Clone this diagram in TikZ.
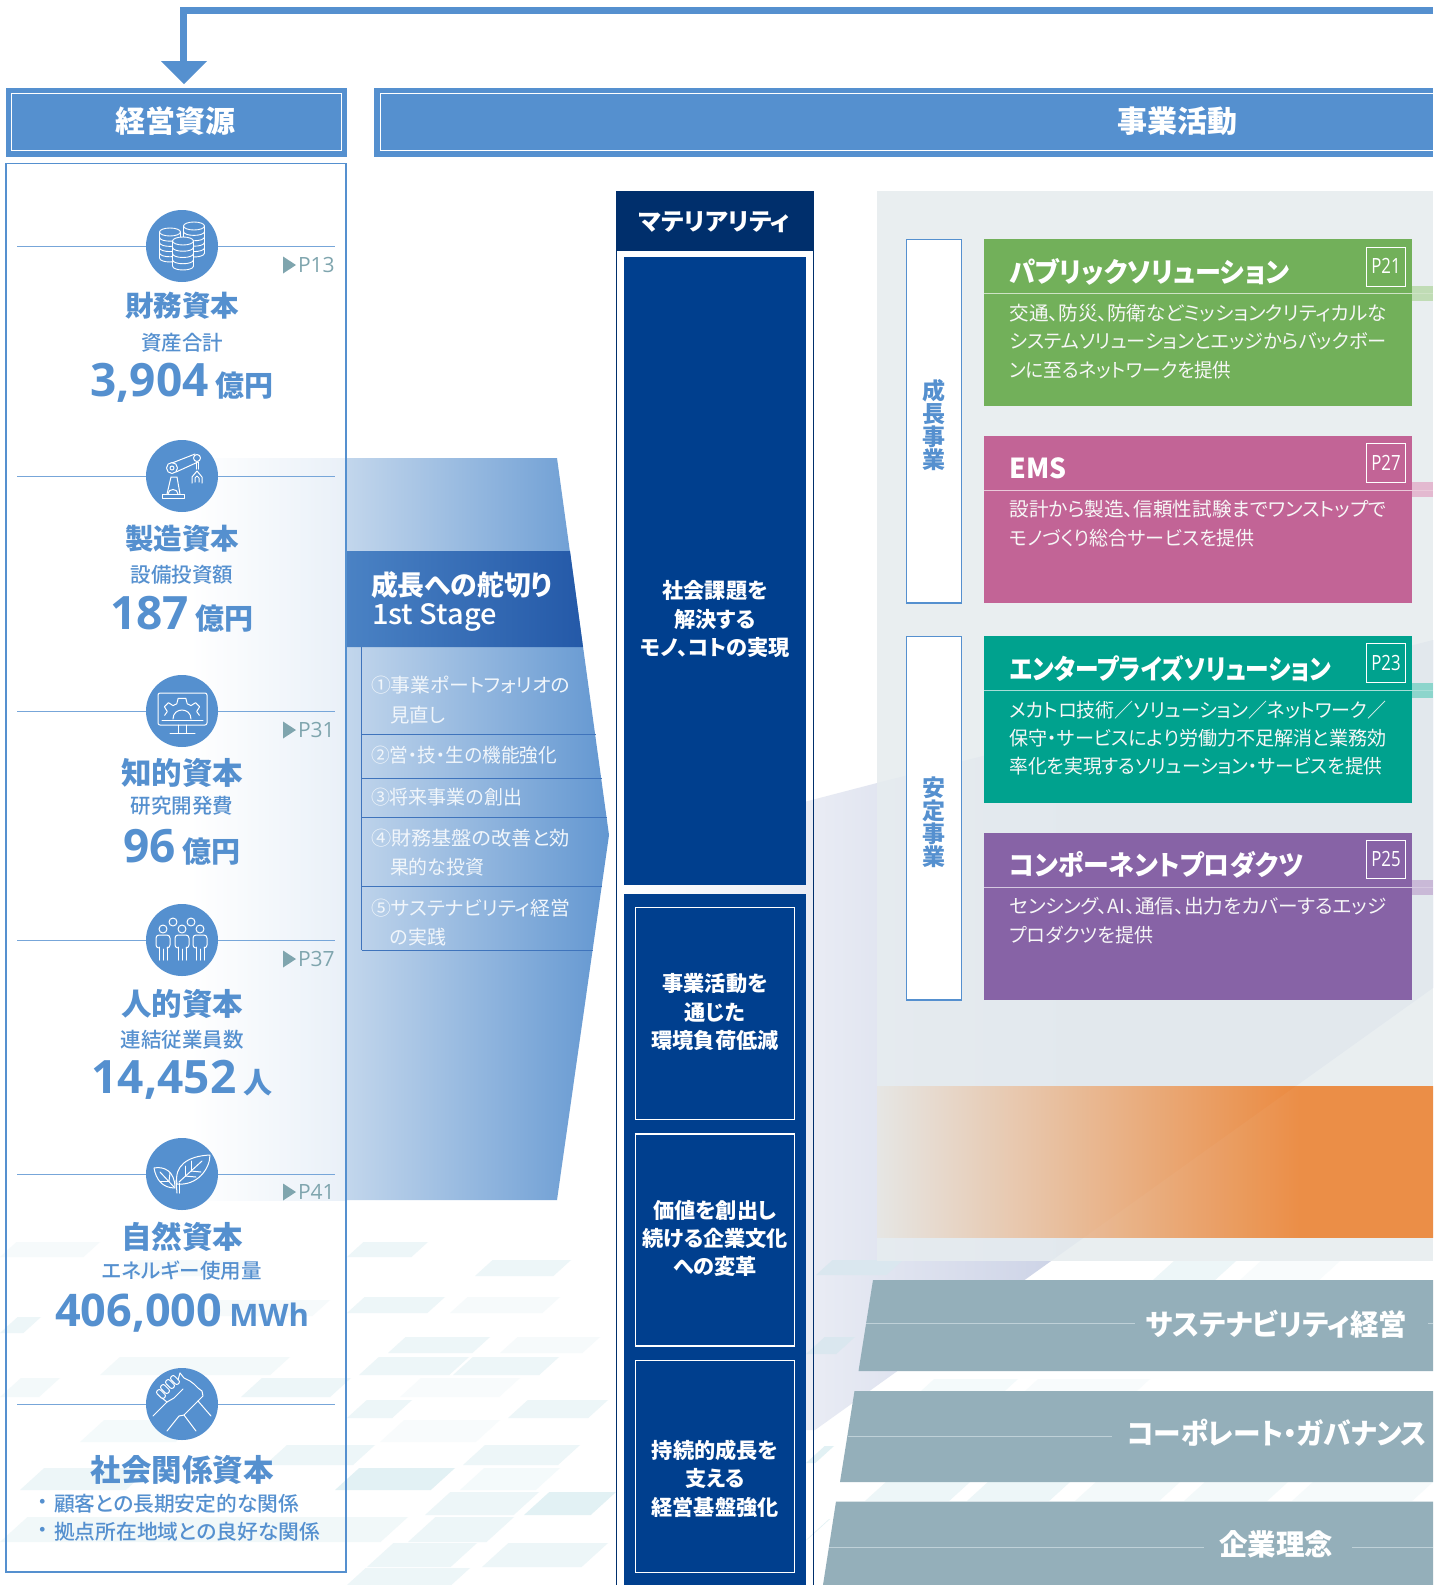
\documentclass[tikz,border=0pt]{standalone}
\usepackage{fontspec}
\setmainfont{Noto Sans CJK JP}[RawFeature={+palt}]
\newfontfamily\jp{Noto Sans CJK JP}[RawFeature={+palt}]
\newfontfamily\jpm{Noto Sans CJK JP Medium}[RawFeature={+palt}]
\newfontfamily\numf{Open Sans}
\usetikzlibrary{calc}
\definecolor{mainblue}{HTML}{5590CF}
\definecolor{navy}{HTML}{002F6C}
\definecolor{deepblue}{HTML}{003F8E}
\definecolor{tilec}{HTML}{EDF6F8}
\definecolor{tiled}{HTML}{E2F1F4}
\definecolor{barc}{HTML}{94AFBA}
\definecolor{barl}{HTML}{BFD1D8}
\definecolor{prefc}{HTML}{7FA5AE}
\definecolor{cgreen}{HTML}{72B05A}
\definecolor{cpink}{HTML}{C26496}
\definecolor{cteal}{HTML}{00A28E}
\definecolor{cpurple}{HTML}{8763A6}
\definecolor{lav}{HTML}{C8CFE4}
\definecolor{panelg}{HTML}{E6ECEF}
\definecolor{bandl}{HTML}{E6E6E4}
\definecolor{bandr}{HTML}{EB8A40}
\definecolor{washc}{HTML}{E9F0F8}
\definecolor{arrl}{HTML}{C2D6EC}
\definecolor{arrr}{HTML}{6397D1}
\definecolor{headl}{HTML}{4A82C4}
\definecolor{headr}{HTML}{2459A8}
\definecolor{stglc}{HTML}{3F74BC}
\pgfdeclarehorizontalshading{bandsh}{100bp}{color(0bp)=(bandl); color(25bp)=(bandl); color(63bp)=(bandr); color(100bp)=(bandr)}
\newcommand{\fsz}[1]{\fontsize{#1}{#1}\selectfont}
\newcommand{\wfit}[2]{\resizebox{#1pt}{\height}{#2}}
\newcommand{\tile}[5]{\fill[#5] ({#1+(#4-#3)*1.1},#3) -- (#2,#3) -- ({#2-(#4-#3)*1.1},#4) -- (#1,#4) -- cycle;}
\tikzset{
  txt/.style={inner sep=0pt,outer sep=0pt},
  hd/.style={txt,text=white,font=\bfseries\fsz{30}},
  capname/.style={txt,text=mainblue,font=\bfseries\fsz{28.5}},
  capnameb/.style={capname,font=\bfseries\fsz{30.5}},
  capsub/.style={txt,text=mainblue,font=\jpm\fsz{20.5}},
  capval/.style={txt,text=mainblue,anchor=base},
  itemline/.style={draw=mainblue!80,line width=1pt},
  iconc/.style={fill=mainblue,circle,minimum size=72pt,inner sep=0pt},
  ico/.style={white,line width=1pt,line join=round,line cap=round},
  pref/.style={txt,anchor=west,text=prefc,font=\numf\fsz{21}},
  mat/.style={txt,text=white,font=\bfseries\fsz{21.2},align=center},
  matbox/.style={draw=white,line width=1.1pt},
  stg/.style={txt,anchor=west,text=white!92!mainblue,font=\fsz{19.4}},
  stgl/.style={draw=stglc,line width=1pt},
  ctitle/.style={txt,anchor=west,text=white,font=\bfseries\fsz{27.5}},
  cbody/.style={txt,anchor=west,text=white!94!gray,font=\fsz{19.4}},
  pbox/.style={draw=white,line width=.9pt},
  ptxt/.style={txt,text=white,font=\numf\fsz{21}},
  side/.style={draw=mainblue,line width=1.1pt,fill=white},
  sidetxt/.style={txt,text=mainblue,font=\bfseries\fsz{23},align=center},
  bartxt/.style={txt,text=white,font=\bfseries\fsz{29}},
  barline/.style={draw=barl,line width=.9pt},
}
\newcommand{\prefmark}[3]{\fill[prefc] (283,#2-8.5) -- (296,#2) -- (283,#2+8.5) -- cycle; \node[pref] (#1) at (298,#2) {#3};}
\newcommand{\coinstack}[4]{% dx, ytop, ybot, n
  \fill[mainblue] (#1-10.5,#2) rectangle (#1+10.5,#3);
  \fill[mainblue] (#1,#2) ellipse (10.5 and 4);
  \fill[mainblue] (#1,#3) ellipse (10.5 and 4);
  \draw (#1,#2) ellipse (10.5 and 4);
  \draw (#1-10.5,#2) -- (#1-10.5,#3) .. controls (#1-10.5,#3+5.3) and (#1+10.5,#3+5.3) .. (#1+10.5,#3) -- (#1+10.5,#2);
  \foreach \k in {1,...,#4}{\pgfmathsetmacro{\yk}{#2+(#3-#2)*\k/(#4+1)}\draw (#1-10.5,\yk) .. controls (#1-10.5,\yk+5.3) and (#1+10.5,\yk+5.3) .. (#1+10.5,\yk);}
}
\begin{document}
\begin{tikzpicture}[x=1pt,y=-1pt]
\useasboundingbox (0,0) rectangle (1433,1585);
\fill[white] (0,0) rectangle (1433,1585);
% --- background tiles
\tile{0}{100}{1242}{1257}{tilec!50}
\tile{347}{428}{1242}{1257}{tilec}
\tile{475}{571}{1260}{1276}{tilec}
\tile{120}{250}{1260}{1276}{tilec!50}
\tile{347}{445}{1297}{1313}{tilec}
\tile{450}{560}{1297}{1313}{tilec!50}
\tile{0}{41}{1317}{1333}{tilec}
\tile{200}{330}{1300}{1316}{tilec!50}
\tile{388}{490}{1337}{1353}{tilec}
\tile{500}{600}{1337}{1353}{tilec!50}
\tile{100}{290}{1357}{1375}{tilec!70}
\tile{359}{469}{1357}{1375}{tilec}
\tile{453}{559}{1357}{1375}{tilec}
\tile{0}{60}{1378}{1397}{tilec!70}
\tile{241}{351}{1378}{1397}{tilec}
\tile{400}{520}{1378}{1397}{tilec!40}
\tile{347}{412}{1400}{1418}{tilec}
\tile{508}{608}{1400}{1418}{tilec}
\tile{80}{200}{1420}{1442}{tilec!60}
\tile{380}{500}{1420}{1442}{tilec!40}
\tile{265}{375}{1445}{1465}{tilec}
\tile{463}{580}{1445}{1465}{tilec}
\tile{20}{150}{1468}{1490}{tilec}
\tile{335}{455}{1468}{1490}{tiled}
\tile{460}{560}{1468}{1490}{tilec!60}
\tile{425}{539}{1492}{1515}{tilec}
\tile{524}{616}{1492}{1515}{tiled}
\tile{0}{408}{1517}{1542}{tilec!80}
\tile{408}{514}{1517}{1542}{tilec}
\tile{367}{477}{1543}{1567}{tilec}
\tile{482}{608}{1543}{1567}{tilec}
\tile{347}{470}{1568}{1585}{tilec}
\tile{1153}{1236}{1261}{1280}{tilec}
\tile{1240}{1340}{1261}{1280}{tilec!40}
\tile{921}{1018}{1379}{1391}{tilec!60}
\tile{1025}{1150}{1379}{1391}{tilec!40}
\tile{865}{970}{1482}{1501}{tilec}
\tile{967}{1070}{1482}{1501}{tilec}
\tile{1075}{1180}{1482}{1501}{tilec!70}
\tile{1184}{1288}{1482}{1501}{tilec!70}
\tile{1292}{1433}{1482}{1501}{tilec!50}
\tile{806}{834}{1446}{1463}{tiled}
\tile{806}{830}{1519}{1540}{tiled}
% --- lavender wedge
\shade[left color=white,right color=lav] (620,850) -- (877,783) -- (1100,726) -- (1100,1226) -- (815,1430) -- (620,1430) -- cycle;
\fill[lav] (1099,726) -- (1433,640) -- (1433,988) -- (1099,1227) -- cycle;
\tile{816}{903}{1260}{1275}{tiled!70!lav}
\tile{806}{855}{1337}{1354}{tiled!70!lav}
% --- grey panel
\fill[fill=panelg,fill opacity=.88] (877,191) rectangle (1433,1261);
% --- orange band
\shade[shading=bandsh] (877,1086.5) rectangle (1433,1237);
\begin{scope}
\clip (877,1086.5) rectangle (1433,1237);
\fill[white,fill opacity=.04] (1433,988) -- (815,1430) -- (1433,1430) -- cycle;
\end{scope}
% --- left panel wash and arrow
\shade[left color=white,right color=washc] (190,458) rectangle (347,1200);
\shade[left color=arrl,right color=arrr] (347,458) -- (557,458) -- (609,835) -- (557,1200) -- (347,1200) -- cycle;
\shade[left color=headl,right color=headr] (347,551) -- (570,551) -- (583,647) -- (347,647) -- cycle;
\draw[stgl] (361.5,647) -- (361.5,950);
\draw[stgl] (361.5,734) -- (596,734);
\draw[stgl] (361.5,778) -- (602,778);
\draw[stgl] (361.5,817) -- (607,817);
\draw[stgl] (361.5,886) -- (602,886);
\draw[stgl] (361.5,950) -- (593,950);
\node[txt,anchor=west,text=white,font=\bfseries\fsz{27.5}] (stagea) at (371,585) {\wfit{181}{成長への舵切り}};
\node[txt,anchor=west,text=white,font=\jpm\fsz{28}] (stageb) at (372,617) {\wfit{125}{1st Stage}};
\node[stg] (s1a) at (371,685) {\wfit{199}{①事業ポートフォリオの}};
\node[stg] (s1b) at (390,715) {見直し};
\node[stg] (s2) at (371,755) {\wfit{186}{②営・技・生の機能強化}};
\node[stg] (s3) at (371,797) {\wfit{151}{③将来事業の創出}};
\node[stg] (s4a) at (371,838) {\wfit{199}{④財務基盤の改善と効}};
\node[stg] (s4b) at (390,867) {\wfit{94}{果的な投資}};
\node[stg] (s5a) at (371,908) {\wfit{199}{⑤サステナビリティ経営}};
\node[stg] (s5b) at (390,937) {\wfit{56}{の実践}};
% --- top arrow
\coordinate (topr) at (1433,10.5);
\coordinate (topd) at (183.5,62);
\draw[mainblue,line width=7pt] (topr) -| (topd);
\fill[mainblue] (161,61) -- (207,61) -- (184,84) -- cycle;
% --- headers
\fill[mainblue] (6,88) rectangle (347,157);
\draw[white,line width=.9pt] (11.5,93.5) rectangle (341,150.5);
\node[hd] (hleft) at (175.5,121) {経営資源};
\fill[mainblue] (374,88) rectangle (1433,157);
\draw[white,line width=.9pt] (1433,93.5) -- (380,93.5) -- (380,150.5) -- (1433,150.5);
\node[hd] (hright) at (1177,121) {事業活動};
% --- resource panel
\draw[mainblue,line width=1.1pt] (6,163.5) rectangle (346,1572);
% items
\foreach \yy in {246,476,711,940,1174,1404}{\draw[itemline] (17,\yy) -- (335,\yy);}
\node[iconc] (i1) at (182,246) {};
\node[iconc] (i2) at (182,476) {};
\node[iconc] (i3) at (182,711) {};
\node[iconc] (i4) at (182,940) {};
\node[iconc] (i5) at (182,1174) {};
\node[iconc] (i6) at (182,1404) {};
% coins
\begin{scope}[ico,line width=.9pt,shift={(i1.center)}]
\coinstack{-12}{-14}{12}{4}
\coinstack{12}{-20}{7}{4}
\coinstack{1}{-5}{20}{3}
\end{scope}
% robot
\begin{scope}[ico,shift={(i2.center)}]
\draw (-20,18) rectangle (2,22);
\draw (-15,18) -- (-11,1) -- (-5,1) -- (-2,18);
\draw (-14,18) .. controls (-14,12) and (-4,12) .. (-4,18);
\draw (-10,-8) circle (5.5);
\draw (-10,-8) circle (2);
\draw (-10,-13) -- (13,-22);
\draw (-6,-4) -- (16,-14);
\draw (15,-18) circle (3.5);
\draw (14,-14) -- (14,-7);
\draw (16,-14) -- (16,-7);
\draw (10,7) -- (10,1) -- (15,-5) -- (20,1) -- (20,7);
\draw (13,6) -- (13,2) -- (15,0) -- (17,2) -- (17,6);
\end{scope}
% monitor
\begin{scope}[ico,shift={(i3.center)}]
\draw[rounded corners=2pt] (-24,-18) rectangle (25,14);
\draw (-20,9) -- (21,9);
\draw (-4,14) -- (-4,22);
\draw (4,14) -- (4,22);
\draw (-12,22) -- (13,22);
\draw[shift={(0,9)}] (-165:18) -- (-150:17) -- (-143:22) -- (-128:22) -- (-122:17) -- (-108:17) -- (-100:22) -- (-80:22) -- (-72:17) -- (-58:17) -- (-52:22) -- (-37:22) -- (-30:17) -- (-15:18);
\draw[shift={(0,9)}] (-9,-1) .. controls (-9,-13) and (9,-13) .. (9,-1);
\end{scope}
% people
\begin{scope}[ico,shift={(i4.center)}]
\draw (-9,-18) circle (4);
\draw (9,-18) circle (4);
\foreach \px in {-19,0,18}{
\begin{scope}[shift={(\px,0)}]
\draw (0,-11) circle (4);
\draw (-4,20) -- (-4,7);
\draw (4,20) -- (4,7);
\draw (0,20) -- (0,9);
\draw[rounded corners=3pt] (-4,8) -- (-7,8) -- (-7,-5) -- (7,-5) -- (7,8) -- (4,8);
\end{scope}}
\end{scope}
% leaves
\begin{scope}[ico,shift={(i5.center)}]
\draw (-5,10) .. controls (-8,-8) and (5,-18) .. (28,-19) .. controls (28,-5) and (15,12) .. (-5,10);
\draw (-3,8) -- (20,-13);
\draw (3,2) -- (3,-8);
\draw (9,-3) -- (9,-13);
\draw (3,2) -- (14,3);
\draw (9,-3) -- (19,-2);
\draw (-7,14) .. controls (-20,14) and (-26,5) .. (-28,-6) .. controls (-18,-8) and (-7,-3) .. (-7,14);
\draw (-8,13) -- (-22,-2);
\draw (-13,7) -- (-22,7);
\draw (-13,7) -- (-12,-1);
\draw (-5,19) -- (-6,6);
\draw (-3,19) -- (-3,9);
\end{scope}
% handshake
\begin{scope}[ico,shift={(i6.center)}]
\draw (-29,12) -- (-15,-2);
\draw (-15,27) -- (-3,12) -- (2,11) -- (14,27);
\draw (29,12) -- (16,-3);
\draw (-15,-2) -- (-20,-6);
\draw (16,-3) -- (21,-8) -- (20,-13) -- (16,-16) -- (12,-20) -- (8,-23) -- (2,-26) -- (-2,-31);
\draw (-2,-31) -- (-4,-24);
\draw (2,11) -- (12,1) -- (16,-3);
\draw (-15,-2) -- (-8,-6) -- (1,-15);
\foreach \ex/\ey in {-21/-10,-17/-15,-12/-20,-7/-24}{\draw[rounded corners=2pt,rotate around={45:(\ex,\ey)}] (\ex-2.5,\ey-5) rectangle (\ex+2.5,\ey+5);}
\end{scope}
% item texts
\node[capname] (n1) at (182,306) {財務資本};
\node[capsub] (m1) at (182,343) {資産合計};
\node[capval] (v1) at (182,396) {\numf\bfseries\fsz{46}3,904\hspace{7pt}\jp\fsz{29}億円};
\node[capname] (n2) at (182,539) {製造資本};
\node[capsub] (m2) at (182,575) {設備投資額};
\node[capval] (v2) at (182,629) {\numf\bfseries\fsz{46}187\hspace{7pt}\jp\fsz{29}億円};
\node[capnameb] (n3) at (182,773) {知的資本};
\node[capsub] (m3) at (182,806) {研究開発費};
\node[capval] (v3) at (182,862) {\numf\bfseries\fsz{46}96\hspace{7pt}\jp\fsz{29}億円};
\node[capnameb] (n4) at (182,1004) {人的資本};
\node[capsub] (m4) at (182,1040) {連結従業員数};
\node[capval] (v4) at (182,1093) {\numf\bfseries\fsz{46}14,452\hspace{7pt}\jp\fsz{29}人};
\node[capnameb] (n5) at (182,1237) {自然資本};
\node[capsub] (m5) at (182,1271) {エネルギー使用量};
\node[capval] (v5) at (182,1326) {\numf\bfseries\fsz{45}406,000\hspace{7pt}\fsz{31}MWh};
\node[capnameb] (n6) at (182,1470) {社会関係資本};
\node[capsub] (m6x) at (42.5,1504) {・};
\node[capsub,anchor=west] (m6a) at (54,1504) {\wfit{245}{顧客との長期安定的な関係}};
\node[capsub] (m6y) at (42.5,1532) {・};
\node[capsub,anchor=west] (m6b) at (54,1532) {\wfit{266}{拠点所在地域との良好な関係}};
\prefmark{p1}{265}{P13}
\prefmark{p3}{730}{P31}
\prefmark{p4}{959}{P37}
\prefmark{p5}{1192}{P41}
% --- materiality column
\draw[navy,line width=1pt] (616.5,251) -- (616.5,1585);
\draw[navy,line width=1pt] (813.5,251) -- (813.5,1585);
\fill[navy] (616,190.5) rectangle (814,251);
\node[txt,text=white,font=\bfseries\fsz{24}] (mhead) at (714.5,222.5) {\wfit{151}{マテリアリティ}};
\fill[deepblue] (624,257) rectangle (806,885);
\fill[deepblue] (624,894) rectangle (806,1585);
\draw[matbox] (635.5,907.5) rectangle (794.5,1119.5);
\draw[matbox] (635.5,1134) rectangle (794.5,1346);
\draw[matbox] (635.5,1360.5) rectangle (794.5,1572.5);
\node[mat] (ma1) at (715,590.5) {社会課題を};
\node[mat] (ma2) at (715,619.5) {解決する};
\node[mat] (ma3) at (715,647.5) {モノ、コトの実現};
\node[mat] (mb1) at (715,984) {事業活動を};
\node[mat] (mb2) at (715,1012.5) {通じた};
\node[mat] (mb3) at (715,1040) {環境負荷低減};
\node[mat] (mc1) at (715,1210) {価値を創出し};
\node[mat] (mc2) at (715,1238) {続ける企業文化};
\node[mat] (mc3) at (715,1266) {への変革};
\node[mat] (md1) at (715,1450) {持続的成長を};
\node[mat] (md2) at (715,1478) {支える};
\node[mat] (md3) at (715,1507) {経営基盤強化};
% --- side labels
\draw[side] (906.5,239.5) rectangle (961.5,603);
\node[sidetxt] (sa) at (934,425) {成\\長\\事\\業};
\draw[side] (906.5,636.5) rectangle (961.5,1000);
\node[sidetxt] (sb) at (934,822) {安\\定\\事\\業};
% --- cards
\fill[cgreen!45!white] (1412,286) rectangle (1433,301);
\fill[cgreen] (984,239) rectangle (1412,406);
\draw[white!65!cgreen,line width=.8pt] (984,293) -- (1433,293);
\draw[pbox] (1366.5,247) rectangle (1405,286);
\node[ptxt] (pa) at (1386,266) {\scalebox{.8}[1]{P21}};
\node[ctitle] (ta) at (1009.5,272) {\wfit{280}{パブリックソリューション}};
\node[cbody] (ta1) at (1009.5,313) {\wfit{377}{交通、防災、防衛などミッションクリティカルな}};
\node[cbody] (ta2) at (1009.5,341) {\wfit{377}{システムソリューションとエッジからバックボー}};
\node[cbody] (ta3) at (1009.5,370) {\wfit{222}{ンに至るネットワークを提供}};
\fill[cpink!45!white] (1412,482) rectangle (1433,497);
\fill[cpink] (984,436) rectangle (1412,603);
\draw[white!65!cpink,line width=.8pt] (984,490) -- (1433,490);
\draw[pbox] (1366.5,443.5) rectangle (1405,482);
\node[ptxt] (pb) at (1386,463) {\scalebox{.8}[1]{P27}};
\node[ctitle] (tb) at (1009.5,468) {\wfit{57}{EMS}};
\node[cbody] (tb1) at (1009.5,509) {\wfit{377}{設計から製造、信頼性試験までワンストップで}};
\node[cbody] (tb2) at (1009.5,538) {\wfit{245.5}{モノづくり総合サービスを提供}};
\fill[cteal!45!white] (1412,683) rectangle (1433,698);
\fill[cteal] (984,636) rectangle (1412,803);
\draw[white!65!cteal,line width=.8pt] (984,690) -- (1433,690);
\draw[pbox] (1366.5,643.5) rectangle (1405,682);
\node[ptxt] (pc) at (1386,663) {\scalebox{.8}[1]{P23}};
\node[ctitle] (tc) at (1009.5,669) {\wfit{322}{エンタープライズソリューション}};
\node[cbody] (tc1) at (1009.5,710) {\wfit{377}{メカトロ技術／ソリューション／ネットワーク／}};
\node[cbody] (tc2) at (1009.5,738) {\wfit{377}{保守・サービスにより労働力不足解消と業務効}};
\node[cbody] (tc3) at (1009.5,766) {\wfit{373}{率化を実現するソリューション・サービスを提供}};
\fill[cpurple!45!white] (1412,880) rectangle (1433,895);
\fill[cpurple] (984,833) rectangle (1412,1000);
\draw[white!65!cpurple,line width=.8pt] (984,887) -- (1433,887);
\draw[pbox] (1366.5,840) rectangle (1405,878.5);
\node[ptxt] (pd) at (1386,859) {\scalebox{.8}[1]{P25}};
\node[ctitle] (td) at (1009.5,865) {\wfit{294}{コンポーネントプロダクツ}};
\node[cbody] (td1) at (1009.5,906) {\wfit{377}{センシング、AI、通信、出力をカバーするエッジ}};
\node[cbody] (td2) at (1009.5,935) {\wfit{143.5}{プロダクツを提供}};
% --- bottom bars
\fill[barc] (873,1280) -- (1433,1280) -- (1433,1371) -- (858.5,1371) -- cycle;
\draw[barline] (866,1323) -- (1135,1323);
\draw[barline] (1428,1323) -- (1433,1323);
\node[bartxt] (ba) at (1276.5,1324) {\wfit{261}{サステナビリティ経営}};
\fill[barc] (854.5,1391) -- (1433,1391) -- (1433,1482) -- (840,1482) -- cycle;
\draw[barline] (848,1436) -- (1112,1436);
\node[bartxt] (bb) at (1277,1433) {\wfit{300}{コーポレート・ガバナンス}};
\fill[barc] (836,1501.5) -- (1433,1501.5) -- (1433,1585) -- (823,1585) -- cycle;
\draw[barline] (829,1547) -- (1204,1547);
\draw[barline] (1352,1547) -- (1433,1547);
\node[bartxt] (bc) at (1276,1544) {\wfit{114}{企業理念}};
\end{tikzpicture}
\end{document}
